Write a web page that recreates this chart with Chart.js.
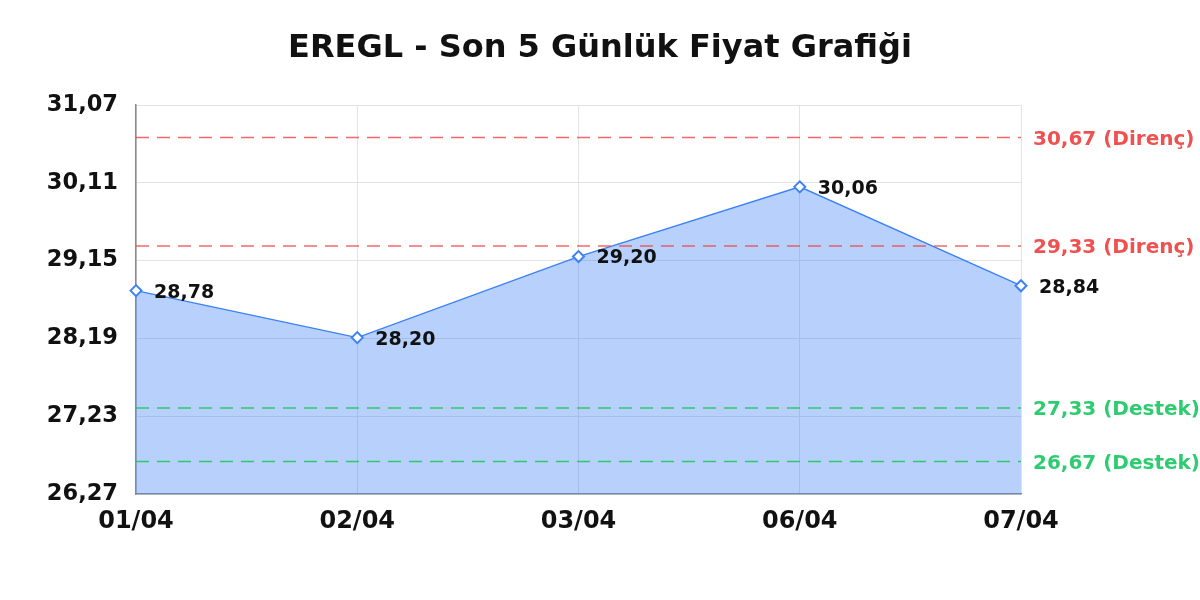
<!DOCTYPE html>
<html>
<head>
<meta charset="utf-8">
<script src="https://cdn.jsdelivr.net/npm/chart.js@4.4.0/dist/chart.umd.min.js"></script>
<style>
  html, body { margin: 0; padding: 0; background: #ffffff; }
  #wrap { width: 1200px; height: 600px; }
</style>
</head>
<body>
<div id="wrap"><canvas id="c" width="1200" height="600"></canvas></div>
<script>
const titleText = 'EREGL - Son 5 Günlük Fiyat Grafiği';
const categories = ['01/04', '02/04', '03/04', '06/04', '07/04'];
const prices = [28.78, 28.20, 29.20, 30.06, 28.84];
const yTicks = [26.27, 27.23, 28.19, 29.15, 30.11, 31.07];
const resistanceLevels = [30.67, 29.33];
const supportLevels = [27.33, 26.67];
const resistanceLabel = 'Direnç';
const supportLabel = 'Destek';

const FONT = "'DejaVu Sans', sans-serif";
const RED = 'rgba(239, 68, 68, 0.8)';
const RED_TXT = '#ef5050';
const GREEN = 'rgba(34, 197, 94, 0.9)';
const GREEN_TXT = '#2ecc71';
const fmt = v => Number(v).toFixed(2).replace('.', ',');

function levelDataset(v, color) {
  return {
    data: categories.map(() => v),
    borderColor: color,
    borderWidth: 1.5,
    borderDash: [13, 8],
    pointRadius: 0,
    fill: false,
    tension: 0,
    isLevel: true
  };
}

const datasets = [
  {
    data: prices,
    borderColor: '#3b82f6',
    borderWidth: 1.4,
    backgroundColor: 'rgba(59, 130, 246, 0.37)',
    fill: 'start',
    tension: 0,
    pointStyle: 'rectRot',
    pointRadius: 5.5,
    pointBorderWidth: 2,
    pointBackgroundColor: '#ffffff',
    pointBorderColor: '#3b82f6',
    order: 1
  }
];
resistanceLevels.forEach(v => datasets.push(Object.assign(levelDataset(v, RED), { order: 0, lvlColor: RED_TXT, lvlName: resistanceLabel })));
supportLevels.forEach(v => datasets.push(Object.assign(levelDataset(v, GREEN), { order: 0, lvlColor: GREEN_TXT, lvlName: supportLabel })));

const labelPlugin = {
  id: 'labels',
  afterDatasetsDraw(chart) {
    const ctx = chart.ctx;
    const meta = chart.getDatasetMeta(0);
    const y = chart.scales.y;
    const area = chart.chartArea;
    ctx.save();
    ctx.textBaseline = 'middle';
    ctx.textAlign = 'left';
    ctx.font = 'bold 19px ' + FONT;
    ctx.fillStyle = '#111111';
    meta.data.forEach((pt, i) => {
      ctx.fillText(fmt(prices[i]), pt.x + 18, pt.y + 2);
    });
    ctx.font = 'bold 20px ' + FONT;
    chart.data.datasets.forEach(ds => {
      if (!ds.isLevel) return;
      const v = ds.data[0];
      ctx.fillStyle = ds.lvlColor;
      ctx.fillText(fmt(v) + ' (' + ds.lvlName + ')', area.right + 12, y.getPixelForValue(v) + 2);
    });
    // title
    ctx.font = 'bold 32px ' + FONT;
    ctx.textAlign = 'center';
    ctx.fillStyle = '#111111';
    ctx.fillText(titleText, 600, 49);
    ctx.restore();
  }
};

new Chart(document.getElementById('c'), {
  type: 'line',
  data: { labels: categories, datasets },
  options: {
    responsive: false,
    animation: false,
    devicePixelRatio: 1,
    layout: { padding: { left: 0, right: 179, top: 105, bottom: 0 } },
    plugins: {
      legend: { display: false },
      tooltip: { enabled: false },
      title: { display: false }
    },
    scales: {
      x: {
        offset: false,
        grid: { color: '#e3e3e3', lineWidth: 1, drawTicks: false },
        border: { color: '#8a8a8a', width: 1.5 },
        ticks: { color: '#111111', font: { family: FONT, size: 24, weight: 'bold' }, padding: 13, maxRotation: 0 },
        afterFit(s) { s.height = 106; }
      },
      y: {
        min: yTicks[0],
        max: yTicks[yTicks.length - 1],
        afterBuildTicks(s) { s.ticks = yTicks.map(v => ({ value: v })); },
        grid: { color: '#e3e3e3', lineWidth: 1, drawTicks: false },
        border: { color: '#8a8a8a', width: 1.5 },
        ticks: { color: '#111111', font: { family: FONT, size: 22.5, weight: 'bold' }, padding: 18, callback: v => fmt(v) },
        afterFit(s) { s.width = 136; }
      }
    }
  },
  plugins: [labelPlugin]
});
</script>
</body>
</html>
